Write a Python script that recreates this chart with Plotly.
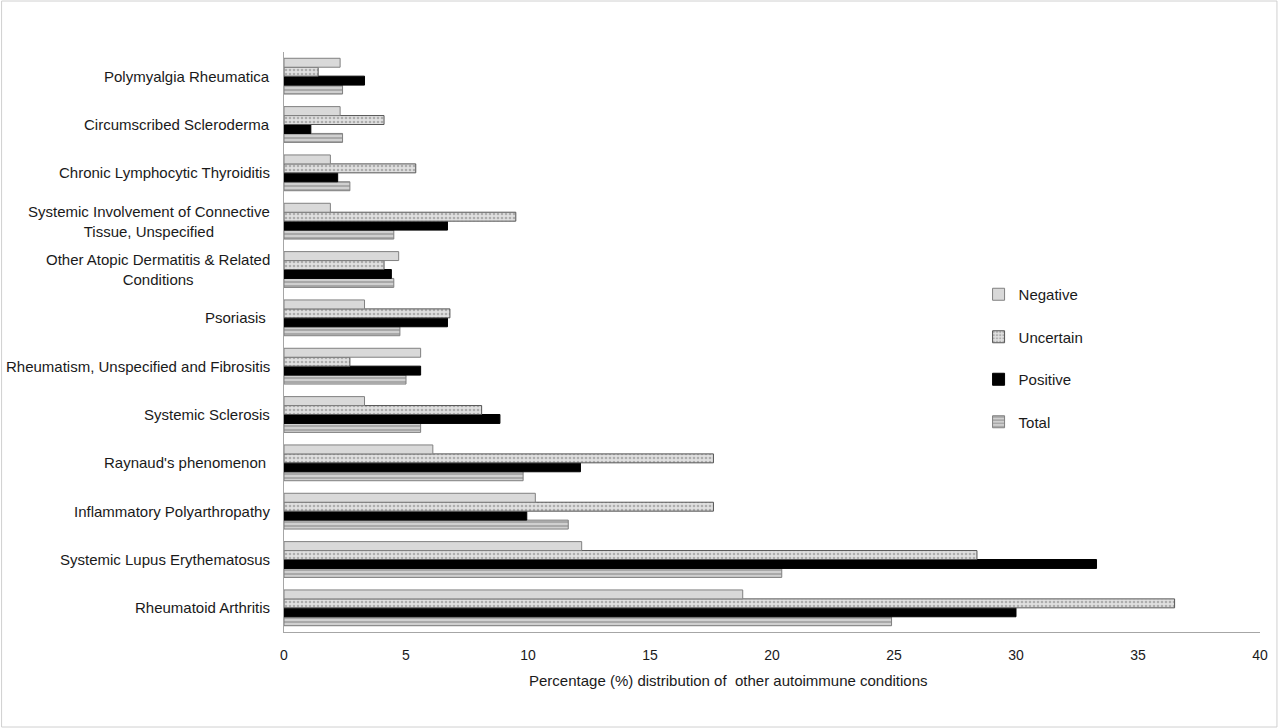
import plotly.graph_objects as go

categories = [
    "Rheumatoid Arthritis",
    "Systemic Lupus Erythematosus",
    "Inflammatory Polyarthropathy",
    "Raynaud's phenomenon ",
    "Systemic Sclerosis",
    "Rheumatism, Unspecified and Fibrositis",
    "Psoriasis ",
    "Other Atopic Dermatitis & Related<br>Conditions",
    "Systemic Involvement of Connective<br>Tissue, Unspecified",
    "Chronic Lymphocytic Thyroiditis",
    "Circumscribed Scleroderma",
    "Polymyalgia Rheumatica",
]

negative = [18.8, 12.2, 10.3, 6.1, 3.3, 5.6, 3.3, 4.7, 1.9, 1.9, 2.3, 2.3]
uncertain = [36.5, 28.4, 17.6, 17.6, 8.1, 2.7, 6.8, 4.1, 9.5, 5.4, 4.1, 1.4]
positive = [30.0, 33.3, 9.95, 12.15, 8.85, 5.6, 6.7, 4.4, 6.7, 2.2, 1.1, 3.3]
total = [24.9, 20.4, 11.65, 9.8, 5.6, 5.0, 4.75, 4.5, 4.5, 2.7, 2.4, 2.4]

x_ticks = [0, 5, 10, 15, 20, 25, 30, 35, 40]
x_title = "Percentage (%) distribution of  other autoimmune conditions"

FONT = "Liberation Sans, Arial, sans-serif"

fig = go.Figure()
# first trace sits at the bottom of each group
fig.add_trace(go.Bar(
    y=categories, x=total, name="Total", orientation="h", legendrank=4, legendgroup="Total",
    marker=dict(color="#bdbdbd", line=dict(color="#7f7f7f", width=1),
                pattern=dict(shape="-", fgcolor="#6e6e6e", bgcolor="#d0d0d0", size=4, solidity=0.4)),
))
fig.add_trace(go.Bar(
    y=categories, x=positive, name="Positive", orientation="h", legendrank=3, legendgroup="Positive",
    marker=dict(color="#000000", line=dict(color="#000000", width=1)),
))
fig.add_trace(go.Bar(
    y=categories, x=uncertain, name="Uncertain", orientation="h", legendrank=2, legendgroup="Uncertain",
    marker=dict(color="#d9d9d9", line=dict(color="#555555", width=1),
                pattern=dict(shape=".", fgcolor="#7a7a7a", bgcolor="#e0e0e0", size=4, solidity=0.35)),
))
fig.add_trace(go.Bar(
    y=categories, x=negative, name="Negative", orientation="h", legendrank=1, legendgroup="Negative",
    marker=dict(color="#d9d9d9", line=dict(color="#808080", width=1)),
))

L, R, T, B = 284, 18, 52, 96
W, H = 1280, 728
pw, ph = W - L - R, H - T - B

annotations = []
for c in categories:
    annotations.append(dict(
        x=-12 / pw, xref="paper", y=c, yref="y", text=c,
        xanchor="right", yanchor="middle", align="center", showarrow=False,
        font=dict(family=FONT, size=15, color="#1a1a1a"),
    ))
annotations.append(dict(
    x=(729 - L) / pw, xref="paper", y=-(680 - (H - B)) / ph, yref="paper",
    text=x_title, xanchor="center", yanchor="middle", showarrow=False,
    font=dict(family=FONT, size=15, color="#1a1a1a"),
))

fig.update_layout(
    width=W, height=H,
    margin=dict(l=L, r=R, t=T, b=B),
    paper_bgcolor="white", plot_bgcolor="white",
    barmode="group", bargap=0.26, bargroupgap=0.0,
    font=dict(family=FONT, size=14, color="#1a1a1a"),
    xaxis=dict(
        range=[0, 40], tickvals=x_ticks, showgrid=False, zeroline=False,
        showline=True, linecolor="#a6a6a6", linewidth=1, ticks="",
        tickfont=dict(size=14), ticklabelstandoff=10,
    ),
    yaxis=dict(
        categoryorder="array", categoryarray=categories,
        showgrid=False, showline=True, linecolor="#a6a6a6", linewidth=1,
        ticks="", showticklabels=False,
    ),
    legend=dict(
        x=(980 - L) / pw, y=(H - B - 278) / ph, xanchor="left", yanchor="top",
        traceorder="grouped", tracegroupgap=20, itemwidth=30,
        font=dict(size=15), bgcolor="rgba(0,0,0,0)",
    ),
    annotations=annotations,
    shapes=[dict(
        type="rect", xref="paper", yref="paper",
        x0=(1 - L) / pw, x1=(W - 1 - L) / pw,
        y0=-(B - 1) / ph, y1=1 + (T - 1) / ph,
        line=dict(color="#d0d0d0", width=1), fillcolor="rgba(0,0,0,0)", layer="below",
    )],
)

fig.write_html("out.html")
